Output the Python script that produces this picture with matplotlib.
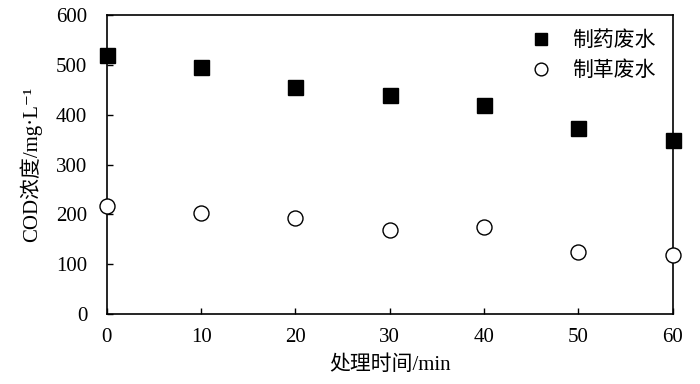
import matplotlib
matplotlib.use("Agg")
import matplotlib.pyplot as plt

plt.rcParams['font.family'] = ['Liberation Serif', 'Noto Sans CJK SC', 'DejaVu Sans']

time_min = [0, 10, 20, 30, 40, 50, 60]
pharma = [519, 495, 455, 439, 419, 374, 350]
tannery = [217, 203, 193, 169, 175, 125, 119]
series_names = ['制药废水', '制革废水']

fig = plt.figure(figsize=(7.0, 3.84), dpi=100)
ax = fig.add_axes([0.1525, 0.1823, 0.8085, 0.7786])

ax.plot(time_min, pharma, linestyle='none', marker='s', markersize=10.8,
        color='black', label=series_names[0], clip_on=False, zorder=3)
ax.plot(time_min, tannery, linestyle='none', marker='o', markersize=10.8,
        markerfacecolor='white', markeredgecolor='black', markeredgewidth=1.0,
        label=series_names[1], clip_on=False, zorder=3)

ax.set_xlim(0, 60)
ax.set_ylim(0, 600)
ax.set_xticks(time_min)
ax.set_yticks(range(0, 601, 100))
ax.tick_params(direction='in', length=4, width=1, labelsize=15)
ax.tick_params(axis='y', pad=14)
ax.tick_params(axis='x', pad=10)
for s in ax.spines.values():
    s.set_linewidth(1.2)

ax.set_xlabel('处理时间/min', fontsize=15, labelpad=6)
ax.set_ylabel('COD浓度/mg·L⁻¹', fontsize=15, labelpad=10)

leg = ax.legend(loc='upper right', frameon=False, fontsize=15, handletextpad=0.5,
                borderaxespad=0.4, markerscale=0.85, labelspacing=0.5,
                borderpad=0.4)

fig.savefig('out.png', dpi=100)
